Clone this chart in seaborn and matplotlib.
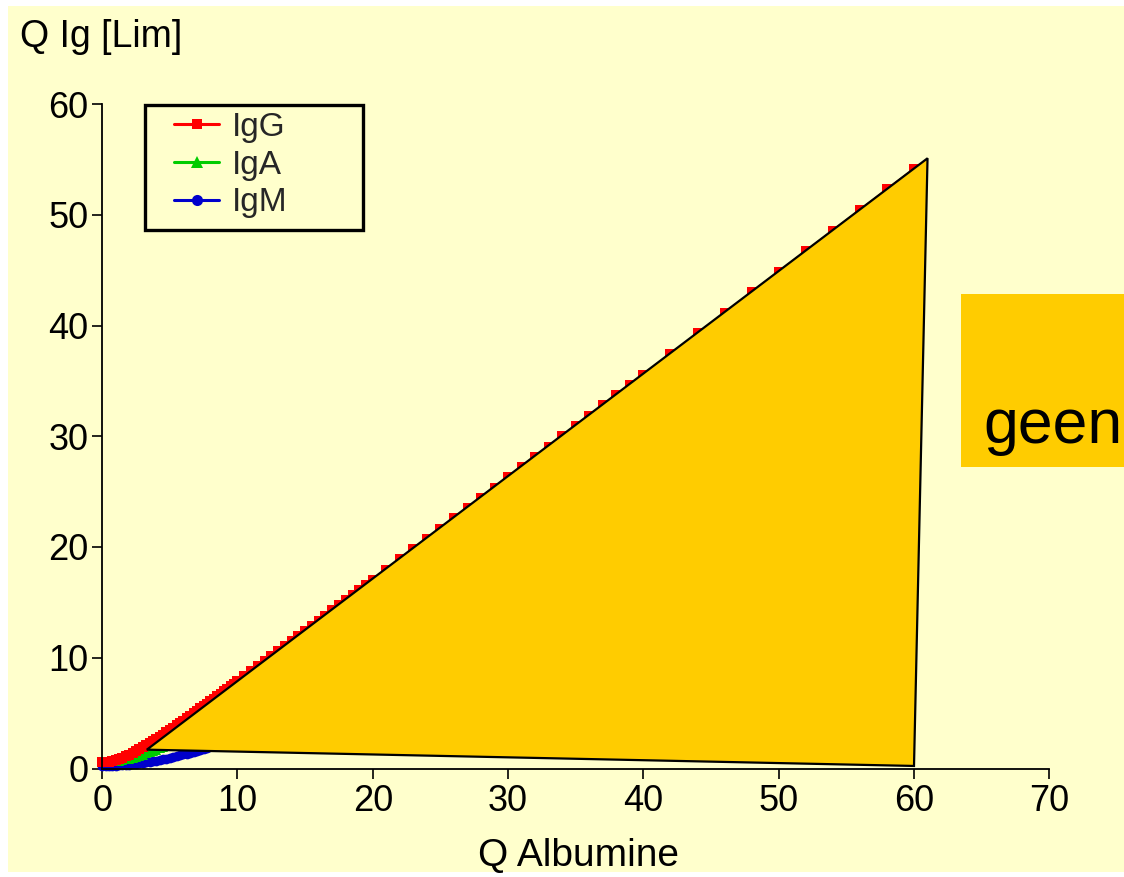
import matplotlib
matplotlib.use("Agg")
import matplotlib.pyplot as plt
import seaborn as sns
from matplotlib.patches import Rectangle, Polygon
from matplotlib.lines import Line2D

# ---------------- data ----------------
alb_igg = [0, 0.25, 0.5, 0.75, 1.0, 1.25, 1.5, 1.75, 2.0, 2.25, 2.5, 2.75, 3.0, 3.25, 3.5, 3.75,
           4.0, 4.25, 4.5, 4.75, 5.0, 5.25, 5.5, 5.75, 6.0, 6.25, 6.5, 6.75, 7.0, 7.25, 7.5, 7.75,
           8.0, 8.25, 8.5, 8.75, 9.0, 9.25, 9.5, 9.75, 10, 10.5, 11, 11.5, 12, 12.5, 13, 13.5,
           14, 14.5, 15, 15.5, 16, 16.5, 17, 17.5, 18, 18.5, 19, 19.5, 20, 21, 22, 23, 24, 25,
           26, 27, 28, 29, 30, 31, 32, 33, 34, 35, 36, 37, 38, 39, 40, 42, 44, 46, 48, 50, 52,
           54, 56, 58, 60]
igg = [0.58, 0.59, 0.63, 0.68, 0.76, 0.86, 0.97, 1.10, 1.24, 1.39, 1.56, 1.72, 1.90, 2.08, 2.27, 2.47,
       2.66, 2.86, 3.06, 3.27, 3.48, 3.69, 3.90, 4.11, 4.33, 4.54, 4.76, 4.98, 5.20, 5.42, 5.64, 5.86,
       6.08, 6.30, 6.53, 6.75, 6.97, 7.20, 7.42, 7.65, 7.87, 8.33, 8.78, 9.23, 9.69, 10.15, 10.60, 11.06,
       11.52, 11.98, 12.43, 12.89, 13.35, 13.81, 14.27, 14.73, 15.19, 15.66, 16.12, 16.58, 17.04, 17.96,
       18.89, 19.81, 20.74, 21.66, 22.59, 23.51, 24.44, 25.37, 26.29, 27.22, 28.15, 29.07, 30.00, 30.93,
       31.86, 32.79, 33.71, 34.64, 35.57, 37.43, 39.28, 41.14, 43.00, 44.86, 46.71, 48.57, 50.43,
       52.29, 54.15]

alb_iga = [0, 0.25, 0.5, 0.75, 1.0, 1.25, 1.5, 1.75, 2.0, 2.25, 2.5, 2.75, 3.0, 3.25, 3.5, 3.75,
           4.0, 4.25, 4.5, 4.75, 5.0, 5.25, 5.5, 5.75, 6.0, 6.5, 7.0, 7.5, 8.0, 9.0, 10, 12, 15,
           20, 30, 40, 50, 60]
iga = [0.59, 0.60, 0.61, 0.64, 0.67, 0.72, 0.77, 0.83, 0.90, 0.98, 1.06, 1.16, 1.26, 1.36, 1.47, 1.59,
       1.71, 1.83, 1.96, 2.10, 2.23, 2.38, 2.52, 2.67, 2.81, 3.12, 3.43, 3.75, 4.08, 4.75, 5.44, 6.85,
       9.03, 12.74, 20.29, 27.92, 35.58, 43.25]

alb_igm = [0, 0.25, 0.5, 0.75, 1.0, 1.25, 1.5, 1.75, 2.0, 2.25, 2.5, 2.75, 3.0, 3.25, 3.5, 3.75,
           4.0, 4.25, 4.5, 4.75, 5.0, 5.25, 5.5, 5.75, 6.0, 6.25, 6.5, 6.75, 7.0, 7.25, 7.5, 7.75,
           8.0, 8.5, 9.0, 10, 12, 15, 20, 30, 40, 50, 60]
igm = [0.24, 0.24, 0.25, 0.26, 0.27, 0.29, 0.31, 0.33, 0.36, 0.39, 0.43, 0.47, 0.51, 0.56, 0.61, 0.66,
       0.71, 0.77, 0.83, 0.90, 0.97, 1.04, 1.11, 1.19, 1.27, 1.35, 1.43, 1.52, 1.61, 1.70, 1.79, 1.89,
       1.99, 2.19, 2.40, 2.84, 3.79, 5.34, 8.18, 14.30, 20.69, 27.19, 33.76]

# triangle region (Q Albumine, Q Ig)
region_x = [3.3, 61.0, 60.0]
region_y = [1.7, 55.1, 0.23]

series_names = ["IgG", "IgA", "IgM"]
x_ticks = [0, 10, 20, 30, 40, 50, 60, 70]
y_ticks = [0, 10, 20, 30, 40, 50, 60]

# ---------------- style ----------------
sns.set_style("white")
plt.rcParams["font.family"] = ["Liberation Sans", "DejaVu Sans"]

BG = "#FFFFCC"
GOLD = "#FFCC00"
RED = "#FF0000"
GREEN = "#00CC00"
BLUE = "#0000CC"

W, H = 1124, 877
fig = plt.figure(figsize=(W / 100, H / 100), dpi=100, facecolor="white")
fig.patches.append(Rectangle((8 / W, 5 / H), 1 - 8 / W, 1 - 11 / H, transform=fig.transFigure,
                             facecolor=BG, edgecolor="none", zorder=-10))

ax = fig.add_axes([102.2 / W, (H - 768.5) / H, (1049.3 - 102.2) / W, (768.5 - 104) / H])
ax.set_facecolor("none")

# curves: IgM first, then IgA, IgG on top
sns.lineplot(x=alb_igm, y=igm, ax=ax, color=BLUE, marker="o", markersize=7, markeredgewidth=0,
             linewidth=1.5, clip_on=False, zorder=2, sort=False, estimator=None)
sns.lineplot(x=alb_iga, y=iga, ax=ax, color=GREEN, marker="^", markersize=7.5, markeredgewidth=0,
             linewidth=1.5, clip_on=False, zorder=2.1, sort=False, estimator=None)
sns.lineplot(x=alb_igg, y=igg, ax=ax, color=RED, marker="s", markersize=7, markeredgewidth=0,
             linewidth=1.5, clip_on=False, zorder=2.2, sort=False, estimator=None)

ax.add_patch(Polygon(list(zip(region_x, region_y)), closed=True, facecolor=GOLD,
                     edgecolor="black", linewidth=1.6, zorder=5, clip_on=False))

ax.set_xlim(0, 70)
ax.set_ylim(0, 60)
ax.set_xticks(x_ticks)
ax.set_yticks(y_ticks)
ax.set_xticklabels([str(t) for t in x_ticks])
ax.set_yticklabels([str(t) for t in y_ticks])
for s in ["top", "right"]:
    ax.spines[s].set_visible(False)
for s in ["left", "bottom"]:
    ax.spines[s].set_color("black")
    ax.spines[s].set_linewidth(1.3)
ax.tick_params(axis="both", direction="out", length=7, width=1.2, color="black",
               labelsize=26, labelcolor="black", bottom=True, left=True)
ax.tick_params(axis="x", pad=4)
ax.tick_params(axis="y", pad=3)
ax.set_xlabel("")
ax.set_ylabel("")

# axis titles
fig.text(20 / W, 1 - 47 / H, "Q Ig [Lim]", fontsize=27, ha="left", va="baseline", color="black")
fig.text(578 / W, 1 - 866 / H, "Q Albumine", fontsize=28, ha="center", va="baseline", color="black")

# legend
fig.patches.append(Rectangle((145 / W, 1 - 230 / H), (363 - 145) / W, (230 - 105) / H,
                             transform=fig.transFigure, facecolor="none", edgecolor="black",
                             linewidth=2.4, zorder=6))
handles = [
    Line2D([], [], color=RED, marker="s", markersize=7, markeredgewidth=0, linewidth=2.2),
    Line2D([], [], color=GREEN, marker="^", markersize=8, markeredgewidth=0, linewidth=2.2),
    Line2D([], [], color=BLUE, marker="o", markersize=8, markeredgewidth=0, linewidth=2.2),
]
fig.legend(handles, series_names, loc="upper left", bbox_to_anchor=(174 / W, 1 - 112 / H),
           bbox_transform=fig.transFigure, frameon=False, fontsize=24, borderpad=0,
           borderaxespad=0, handlelength=1.35, handletextpad=0.4, labelspacing=0.2)

# "geen" box
fig.patches.append(Rectangle((961 / W, 1 - 467 / H), (W - 961) / W, (467 - 294) / H,
                             transform=fig.transFigure, facecolor=GOLD, edgecolor="none", zorder=1))
fig.text(983 / W, 1 - 443 / H, "geen", fontsize=45, ha="left", va="baseline", color="black", zorder=2)

fig.savefig("out.png", dpi=100, facecolor=fig.get_facecolor())
